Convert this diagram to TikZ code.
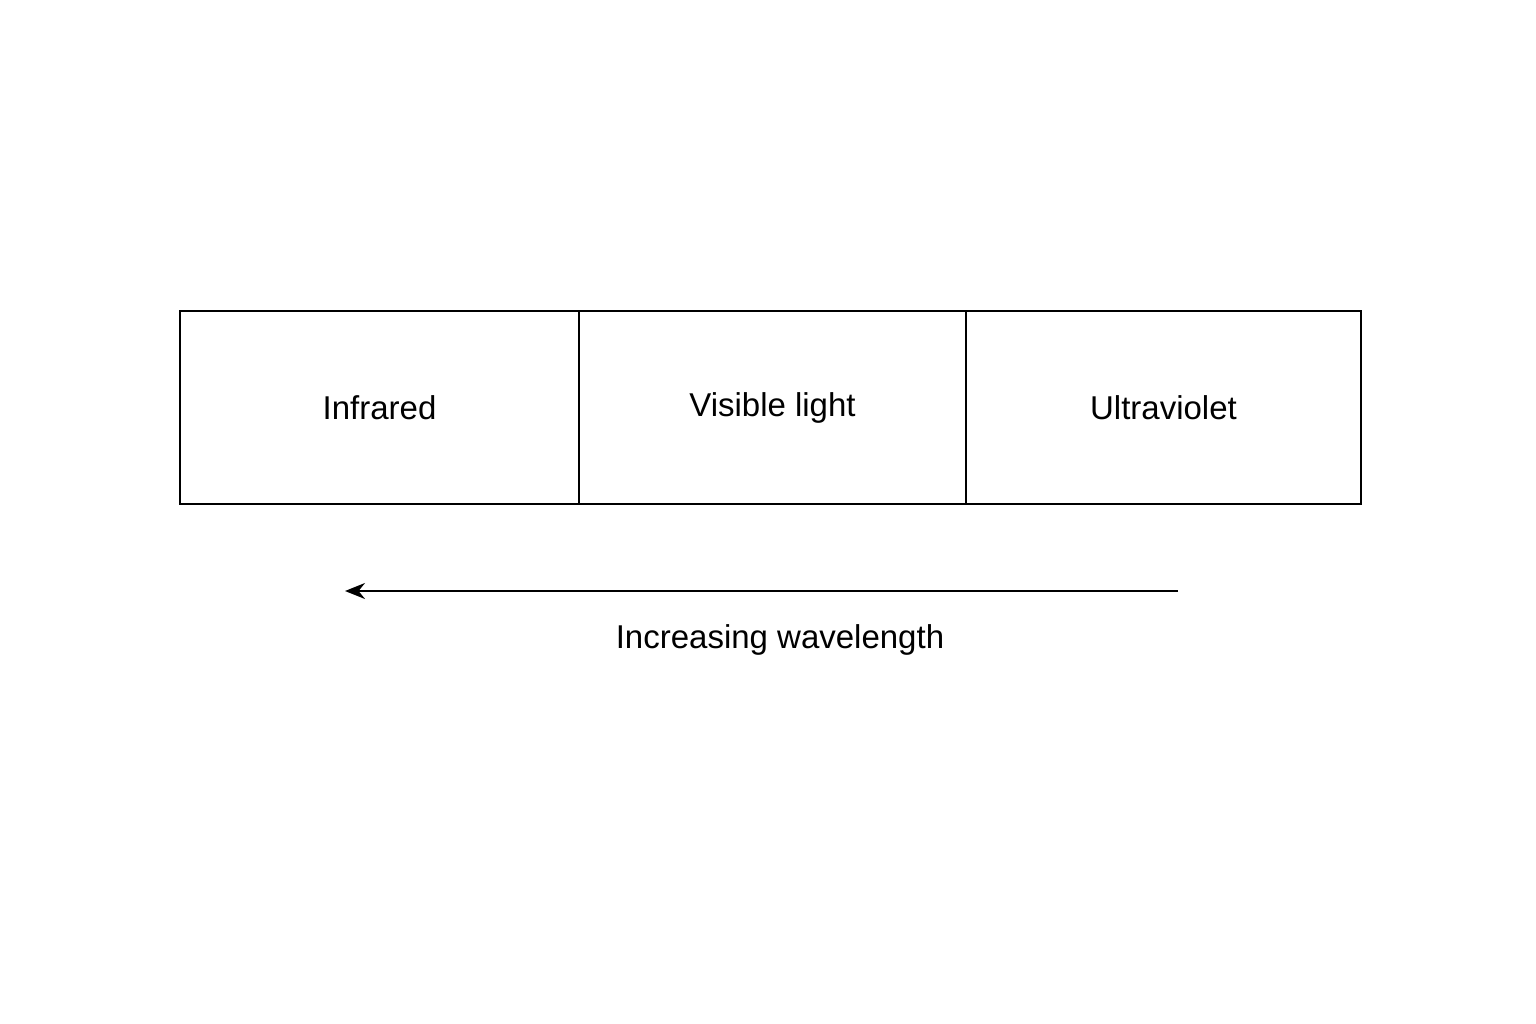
\documentclass[tikz,border=0pt]{standalone}
\usepackage{fontspec}
\setmainfont{Liberation Sans}
\usetikzlibrary{arrows.meta}
\begin{document}
\begin{tikzpicture}[x=1pt,y=-1pt,
  band/.style={draw=black,line width=2.5pt,minimum height=193pt,inner sep=0pt,font=\fontsize{33}{40}\selectfont},
  lbl/.style={font=\fontsize{33}{40}\selectfont}]
\useasboundingbox[fill=white] (0,0) rectangle (1536,1024);
\node[band,minimum width=399pt] (ir) at (379.5,407.5) {Infrared};
\node[band,minimum width=387pt] (vis) at (772.5,407.5) {Visible light};
\node[band,minimum width=395pt] (uv) at (1163.5,407.5) {Ultraviolet};
\coordinate (a) at (1178,591);
\coordinate (b) at (345,591);
\draw[line width=2.5pt,-{Stealth[length=20pt,width=16pt]}] (a) -- (b);
\node[lbl] (t) at (780,640) {Increasing wavelength};
\end{tikzpicture}
\end{document}
